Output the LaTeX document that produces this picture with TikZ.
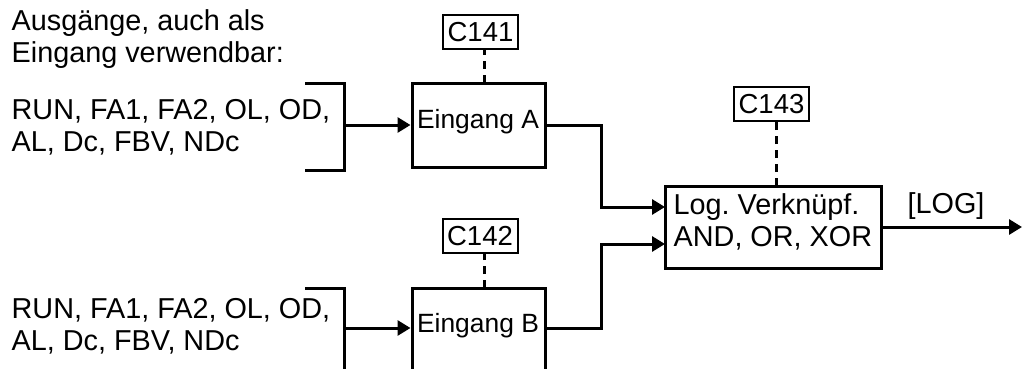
\documentclass[tikz,border=0pt]{standalone}
\usepackage{fontspec}
\setmainfont{Liberation Sans}
\frenchspacing
\usetikzlibrary{arrows.meta,calc}
\tikzset{
  txt/.style={font=\fontsize{28.8pt}{32pt}\selectfont\frenchspacing, inner sep=0pt, align=left},
  boxtxt/.style={font=\fontsize{26.4pt}{32pt}\selectfont, inner sep=0pt},
  block/.style={draw, line width=3pt, inner sep=0pt},
  param/.style={draw, line width=2pt, font=\fontsize{27.5pt}{32pt}\selectfont, inner sep=0pt, minimum width=75pt, minimum height=34pt},
  wire/.style={line width=3pt},
  arr/.style={line width=3pt, -{Triangle[length=13pt,width=15pt]}},
  dashline/.style={line width=3pt, dash pattern=on 8pt off 6pt}
}
\begin{document}
\begin{tikzpicture}[x=1pt,y=-1pt]
\useasboundingbox (0,0) rectangle (1025,369);
% texts (base anchor = last line baseline)
\node[txt, anchor=base west] (t0) at (11.5,63) {Ausgänge, auch als\\Eingang verwendbar:};
\node[txt, anchor=base west] (t1) at (11.5,151) {RUN, FA1, FA2, OL, OD,\\AL, Dc, FBV, NDc};
\node[txt, anchor=base west] (t2) at (11.5,350) {RUN, FA1, FA2, OL, OD,\\AL, Dc, FBV, NDc};
% brackets
\coordinate (bAt) at (305,83);
\coordinate (bAb) at (305,170);
\coordinate (bA) at (344,125);
\coordinate (bBt) at (305,288);
\coordinate (bB) at (344,328);
\coordinate (bBe) at (344,372);
\draw[wire] (bAt) -- (bAt -| bA) -- (bAb -| bA) -- (bAb);
\draw[wire] (bBt) -- (bBt -| bB) -- (bBe);
% blocks
\node[block, minimum width=133pt, minimum height=84pt] (A) at (478.5,125) {};
\node[boxtxt, anchor=base] (Alab) at (478,128) {Eingang A};
\node[block, minimum width=133pt, minimum height=96pt] (B) at (478.5,336) {};
\node[boxtxt, anchor=base] (Blab) at (478,332) {Eingang B};
\node[block, minimum width=216pt, minimum height=82pt] (L) at (773,227) {};
\node[txt, anchor=base west] (Llab) at (673.5,246) {Log. Verknüpf.\\AND, OR, XOR};
% parameters
\node[param] (C141) at (480.5,32) {C141};
\node[param] (C142) at (480,236) {C142};
\node[param] (C143) at (771.5,104) {C143};
\draw[dashline] (484,83) -- (484,49);
\draw[dashline] (484,288) -- (484,253);
\draw[dashline] (776,186) -- (776,121);
% connectors
\coordinate (j) at (601,0);
\coordinate (L1) at (665,207);
\coordinate (L2) at (665,244);
\coordinate (out) at (1022,227);
\draw[arr] (bA) -- (bA -| A.west);
\draw[arr] (bB) -- (bB -| B.west);
\draw[arr] (A.east) -- (A.east -| j) |- (L1);
\draw[arr] (bB -| B.east) -- (bB -| j) |- (L2);
\draw[arr] (L.east) -- (out);
\node[txt, anchor=base] (log) at (946,213) {[LOG]};
\end{tikzpicture}
\end{document}
